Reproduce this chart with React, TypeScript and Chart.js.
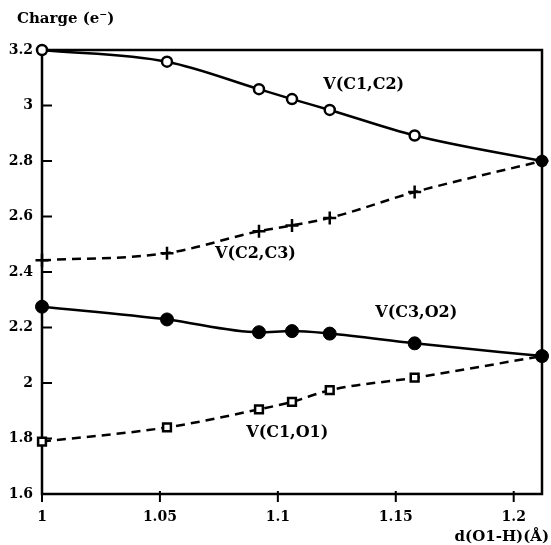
import React, { useEffect, useRef } from "react";
import { Chart, registerables } from "chart.js";

Chart.register(...registerables);

// ---- data ----
const xValues = [1.0, 1.053, 1.092, 1.106, 1.122, 1.158, 1.212];
const vC1C2 = [3.2, 3.158, 3.059, 3.023, 2.984, 2.892, 2.8];
const vC2C3 = [2.442, 2.468, 2.547, 2.568, 2.595, 2.688, 2.8];
const vC3O2 = [2.275, 2.229, 2.183, 2.187, 2.178, 2.143, 2.097];
const vC1O1 = [1.789, 1.84, 1.905, 1.932, 1.974, 2.019, 2.097];

const xTickValues = [1, 1.05, 1.1, 1.15, 1.2];
const yTickValues = [1.6, 1.8, 2, 2.2, 2.4, 2.6, 2.8, 3, 3.2];

const seriesLabels = ["V(C1,C2)", "V(C2,C3)", "V(C3,O2)", "V(C1,O1)"];
// label anchors in data units (x, y)
const labelX = [1.1364, 1.0905, 1.1587, 1.104];
const labelY = [3.074, 2.466, 2.254, 1.822];

const yTitle = "Charge (e\u207B)";
const xTitle = "d(O1-H)(\u00C5)";

const FONT = "'DejaVu Serif', 'Liberation Serif', serif";

function pts(ys: number[]) {
  return xValues.map((x, i) => ({ x, y: ys[i] }));
}

const decorPlugin = {
  id: "decor",
  beforeDatasetsDraw(chart: any) {
    const ctx = chart.ctx;
    const { left, right, top, bottom } = chart.chartArea;
    const xs = chart.scales.x;
    const ys = chart.scales.y;
    ctx.save();
    ctx.strokeStyle = "#000";
    ctx.lineWidth = 2.5;
    ctx.strokeRect(left, top, right - left, bottom - top);
    ctx.lineWidth = 2;
    ctx.beginPath();
    for (const v of yTickValues) {
      const py = ys.getPixelForValue(v);
      ctx.moveTo(left, py);
      ctx.lineTo(left + 10, py);
    }
    for (const v of xTickValues) {
      const px = xs.getPixelForValue(v);
      ctx.moveTo(px, bottom - 3);
      ctx.lineTo(px, bottom + 8);
    }
    ctx.stroke();
    ctx.restore();
  },
  afterDatasetsDraw(chart: any) {
    const ctx = chart.ctx;
    const xs = chart.scales.x;
    const ys = chart.scales.y;
    ctx.save();
    ctx.fillStyle = "#000";
    ctx.font = `bold 16px ${FONT}`;
    ctx.textAlign = "center";
    ctx.textBaseline = "middle";
    seriesLabels.forEach((t, i) => {
      ctx.fillText(t, xs.getPixelForValue(labelX[i]), ys.getPixelForValue(labelY[i]));
    });
    ctx.font = `bold 15px ${FONT}`;
    ctx.textAlign = "left";
    ctx.fillText(yTitle, 17, 19);
    ctx.textAlign = "right";
    ctx.fillText(xTitle, 549, 537);
    ctx.restore();
  },
};

export default function App() {
  const ref = useRef<HTMLCanvasElement | null>(null);
  useEffect(() => {
    if (!ref.current) return;
    const common = { borderColor: "#000", borderWidth: 2.5, cubicInterpolationMode: "monotone" as const, clip: false as any, pointBorderColor: "#000" };
    const c1c2Fill = xValues.map((_, i) => (i === xValues.length - 1 ? "#000" : "#fff"));
    const chart = new Chart(ref.current, {
      type: "line",
      data: {
        datasets: [
          { ...common, label: seriesLabels[0], data: pts(vC1C2), pointStyle: "circle", pointRadius: 5, pointBackgroundColor: c1c2Fill, pointBorderWidth: 2.5 },
          { ...common, label: seriesLabels[1], data: pts(vC2C3), borderDash: [9, 6], pointStyle: "cross", pointRadius: 6.5, pointBorderWidth: 2.5 },
          { ...common, label: seriesLabels[2], data: pts(vC3O2), pointStyle: "circle", pointRadius: 6.5, pointBackgroundColor: "#000", pointBorderWidth: 1 },
          { ...common, label: seriesLabels[3], data: pts(vC1O1), borderDash: [9, 6], pointStyle: "rect", pointRadius: 5.5, pointBackgroundColor: "#fff", pointBorderWidth: 2.5 },
        ],
      },
      options: {
        animation: false,
        responsive: false,
        layout: { padding: { top: 50, right: 6, left: 0, bottom: 0 } },
        plugins: { legend: { display: false }, tooltip: { enabled: false } },
        scales: {
          x: {
            type: "linear",
            min: 1,
            max: 1.212,
            afterFit: (s: any) => { s.height = 51; },
            afterBuildTicks: (s: any) => { s.ticks = xTickValues.map((v) => ({ value: v })); },
            grid: { display: false, drawTicks: false },
            border: { display: false },
            ticks: {
              padding: 15,
              color: "#000",
              font: { family: FONT, weight: "bold", size: 14 },
              callback: (v: any) => String(+Number(v).toFixed(2)),
              maxRotation: 0,
              autoSkip: false,
            },
          },
          y: {
            type: "linear",
            min: 1.6,
            max: 3.2,
            afterFit: (s: any) => { s.width = 42; },
            afterBuildTicks: (s: any) => { s.ticks = yTickValues.map((v) => ({ value: v })); },
            grid: { display: false, drawTicks: false },
            border: { display: false },
            ticks: {
              padding: 9,
              color: "#000",
              font: { family: FONT, weight: "bold", size: 14 },
              callback: (v: any) => String(+Number(v).toFixed(1)),
              autoSkip: false,
            },
          },
        },
      },
      plugins: [decorPlugin],
    });
    return () => chart.destroy();
  }, []);
  return (
    <div style={{ position: "absolute", left: 0, top: 0, width: 551, height: 545, background: "#fff" }}>
      <canvas ref={ref} width={551} height={545} style={{ display: "block", width: 551, height: 545 }} />
    </div>
  );
}
